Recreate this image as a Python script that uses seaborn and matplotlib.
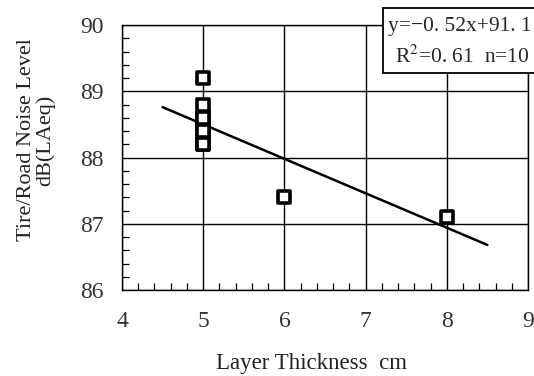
import matplotlib
matplotlib.use("Agg")
import matplotlib.pyplot as plt
import seaborn as sns
import numpy as np
import pandas as pd
from matplotlib.patches import Rectangle
from matplotlib.ticker import MultipleLocator

thickness = [5, 5, 5, 5, 5, 5, 5, 5, 6, 8]
noise = [89.2, 88.8, 88.6, 88.6, 88.4, 88.4, 88.2, 88.2, 87.4, 87.1]
slope = -0.52
intercept = 91.1
fit_range = [4.5, 8.5]
eq_text = "y=−0. 52x+91. 1"
r2_text = "R$^2$=0. 61  n=10"
x_ticks = [4, 5, 6, 7, 8, 9]
y_ticks = [86, 87, 88, 89, 90]

df = pd.DataFrame({"x": thickness, "y": noise})
fit = pd.DataFrame({"x": fit_range, "y": [slope * v + intercept for v in fit_range]})

sns.set_style("white")
plt.rcParams["font.family"] = ["Liberation Serif", "DejaVu Serif"]
plt.rcParams["mathtext.fontset"] = "stix"

fig = plt.figure(figsize=(5.34, 3.76), dpi=100)
ax = fig.add_axes([122/534, 1 - 290/376, 406/534, 265/376])

sns.lineplot(data=fit, x="x", y="y", ax=ax, color="black", linewidth=1.8, zorder=3)
sns.scatterplot(data=df, x="x", y="y", ax=ax, marker="s", s=85,
                facecolor="white", edgecolor="black", linewidth=2.6, zorder=4)

ax.set_xlim(4, 9)
ax.set_ylim(86, 90)
ax.set_xticks(x_ticks)
ax.set_yticks(y_ticks)
ax.xaxis.set_minor_locator(MultipleLocator(0.2))
ax.yaxis.set_minor_locator(MultipleLocator(0.2))
ax.grid(True, which="major", color="black", linewidth=1.0)
ax.tick_params(which="both", direction="in", top=False, right=False,
               bottom=True, left=True, colors="black")
ax.tick_params(which="major", length=0, labelsize=17, labelcolor="#333333")
ax.tick_params(axis="x", which="major", pad=15)
ax.tick_params(axis="y", which="major", pad=13)
ax.tick_params(which="minor", length=5, width=0.9)
for s in ax.spines.values():
    s.set_color("black")
    s.set_linewidth(1.0)

ax.set_xlabel("Layer Thickness  cm", fontsize=16.5, va="center")
ax.xaxis.set_label_coords((312 - 122) / 406, (290 - 363) / 265)
ax.set_ylabel("Tire/Road Noise Level\ndB(LAeq)", fontsize=16, color="#222222",
              linespacing=0.95, va="center")
ax.yaxis.set_label_coords((36 - 122) / 406, (290 - 140) / 265)
ax.xaxis.label.set_color("#222222")

rect = Rectangle((383/534, 1 - 73/376), 0.4, 65/376, transform=fig.transFigure,
                 facecolor="white", edgecolor="black", linewidth=1.3, zorder=10,
                 clip_on=False)
fig.patches.append(rect)
fig.text(388/534, 1 - 26/376, eq_text, fontsize=15.5, va="center", ha="left", zorder=11)
fig.text(395/534, 1 - 57/376, r2_text, fontsize=15.5, va="center", ha="left", zorder=11)

fig.savefig("out.png", dpi=100)
